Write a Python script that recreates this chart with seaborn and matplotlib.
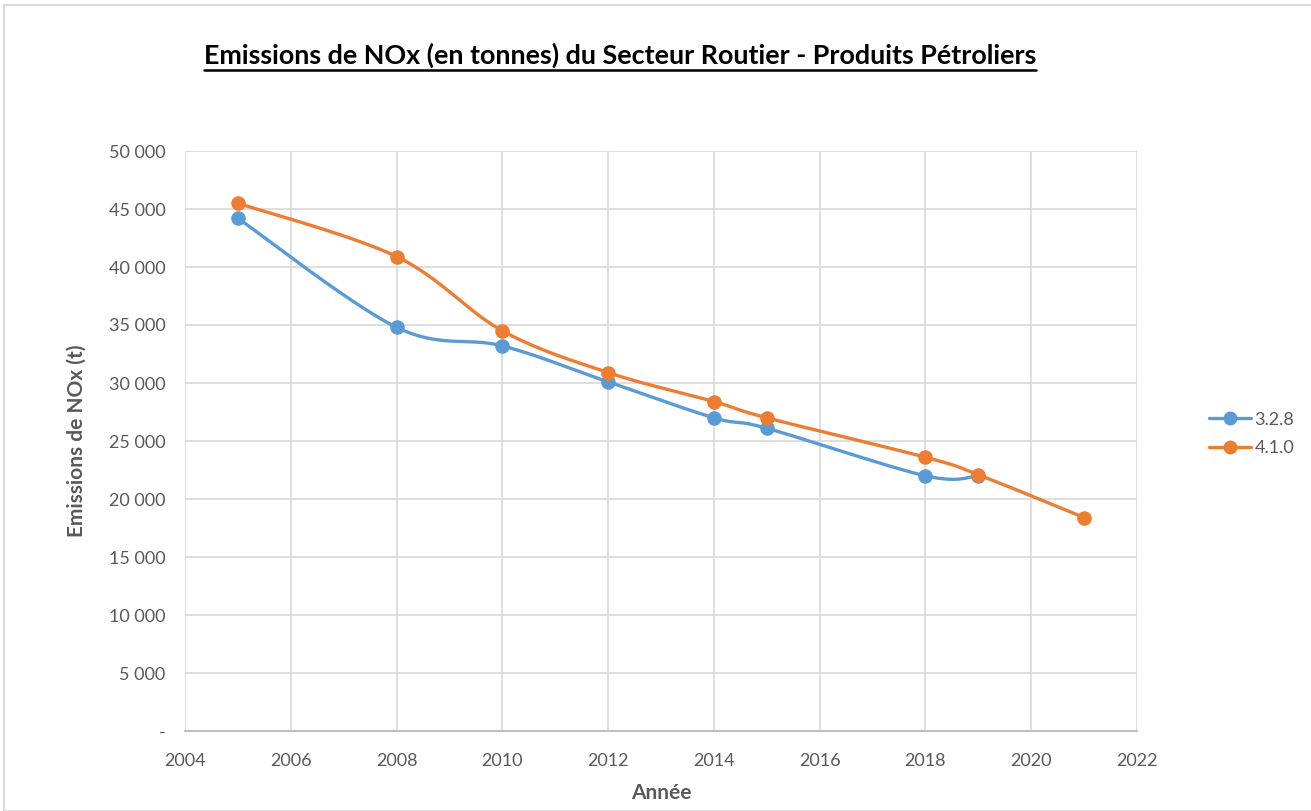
import numpy as np
import pandas as pd
import matplotlib
matplotlib.use("Agg")
import matplotlib.pyplot as plt
import seaborn as sns
from matplotlib.lines import Line2D
from matplotlib.patches import Rectangle
from matplotlib.ticker import FuncFormatter

years_328 = [2005, 2008, 2010, 2012, 2014, 2015, 2018, 2019]
nox_328 = [44200, 34800, 33200, 30100, 27000, 26100, 22000, 22000]
years_410 = [2005, 2008, 2010, 2012, 2014, 2015, 2018, 2019, 2021]
nox_410 = [45500, 40900, 34500, 30900, 28400, 27000, 23600, 22100, 18400]
series_names = ["3.2.8", "4.1.0"]
colors = ["#5B9BD5", "#ED7D31"]

title = "Emissions de NOx (en tonnes) du Secteur Routier - Produits Pétroliers"
xlabel = "Année"
ylabel = "Emissions de NOx (t)"

sns.set_theme(style="white")
plt.rcParams['font.family'] = ['Lato', 'DejaVu Sans']


def smooth(xs, ys, n=30):
    # Catmull-Rom style bezier smoothing (like Excel's smoothed line) for rendering only
    P = np.column_stack([xs, ys]).astype(float)
    out = [P[0]]
    m = len(P)
    for i in range(m - 1):
        p0 = P[i - 1] if i > 0 else P[i]
        p1 = P[i]
        p2 = P[i + 1]
        p3 = P[i + 2] if i + 2 < m else P[i + 1]
        c1 = p1 + (p2 - p0) / 6.0
        c2 = p2 - (p3 - p1) / 6.0
        t = np.linspace(0, 1, n)[1:, None]
        b = ((1 - t) ** 3) * p1 + 3 * ((1 - t) ** 2) * t * c1 + 3 * (1 - t) * t ** 2 * c2 + t ** 3 * p2
        out.extend(b)
    out = np.array(out)
    return out[:, 0], out[:, 1]


W, H = 1311, 811
fig = plt.figure(figsize=(W / 100, H / 100), dpi=100)
fig.patches.append(Rectangle((4 / W, 0), 1.2, 1 - 5 / H, transform=fig.transFigure,
                             fill=False, edgecolor="#d9d9d9", linewidth=1.5))
ax = fig.add_axes([185 / W, 1 - 731 / H, (1137 - 185) / W, (731 - 151) / H])

for xs, ys, name, c in [(years_328, nox_328, series_names[0], colors[0]),
                        (years_410, nox_410, series_names[1], colors[1])]:
    sx, sy = smooth(xs, ys)
    df = pd.DataFrame({"x": sx, "y": sy})
    sns.lineplot(data=df, x="x", y="y", sort=False, ax=ax, color=c, linewidth=2.4,
                 estimator=None, zorder=3)
    sns.scatterplot(x=xs, y=ys, ax=ax, color=c, s=110, edgecolor=c, linewidth=0, zorder=4)

ax.set_xlim(2004, 2022)
ax.set_ylim(0, 50000)
ax.set_xticks(np.arange(2004, 2023, 2))
ax.set_yticks(np.arange(0, 50001, 5000))
ax.yaxis.set_major_formatter(FuncFormatter(
    lambda v, p: "-" if v == 0 else f"{int(v):,}".replace(",", " ")))
ax.grid(True, color="#d9d9d9", linewidth=1.2)
ax.set_axisbelow(True)
for s in ["top", "right", "left"]:
    ax.spines[s].set_visible(False)
ax.spines["bottom"].set_color("#bfbfbf")
ax.spines["bottom"].set_linewidth(1.5)
ax.tick_params(axis="both", length=0, labelsize=13, colors="#595959", pad=14)
ax.tick_params(axis="x", pad=16)
ax.set_xlabel(xlabel, fontsize=15, fontweight="bold", color="#595959", labelpad=10)
ax.set_ylabel(ylabel, fontsize=15, fontweight="bold", color="#595959", labelpad=16)

handles = [Line2D([0], [0], color=c, linewidth=2.4, marker="o", markersize=9) for c in colors]
leg = fig.legend(handles, series_names, loc="center left", bbox_to_anchor=(1193 / W, 1 - 434 / H),
                 frameon=False, fontsize=13, handlelength=2.3, labelspacing=0.7, handletextpad=0.2)
for t in leg.get_texts():
    t.set_color("#595959")

tt = fig.text(620 / W, 1 - 55 / H, title, ha="center", va="center", fontsize=19.4,
              fontweight="bold", color="black")
fig.canvas.draw()
bb = tt.get_window_extent().transformed(fig.transFigure.inverted())
fig.add_artist(Line2D([bb.x0, bb.x1], [bb.y0 - 2 / H, bb.y0 - 2 / H], color="black",
                      linewidth=1.8, transform=fig.transFigure))

fig.savefig("out.png", dpi=100)
